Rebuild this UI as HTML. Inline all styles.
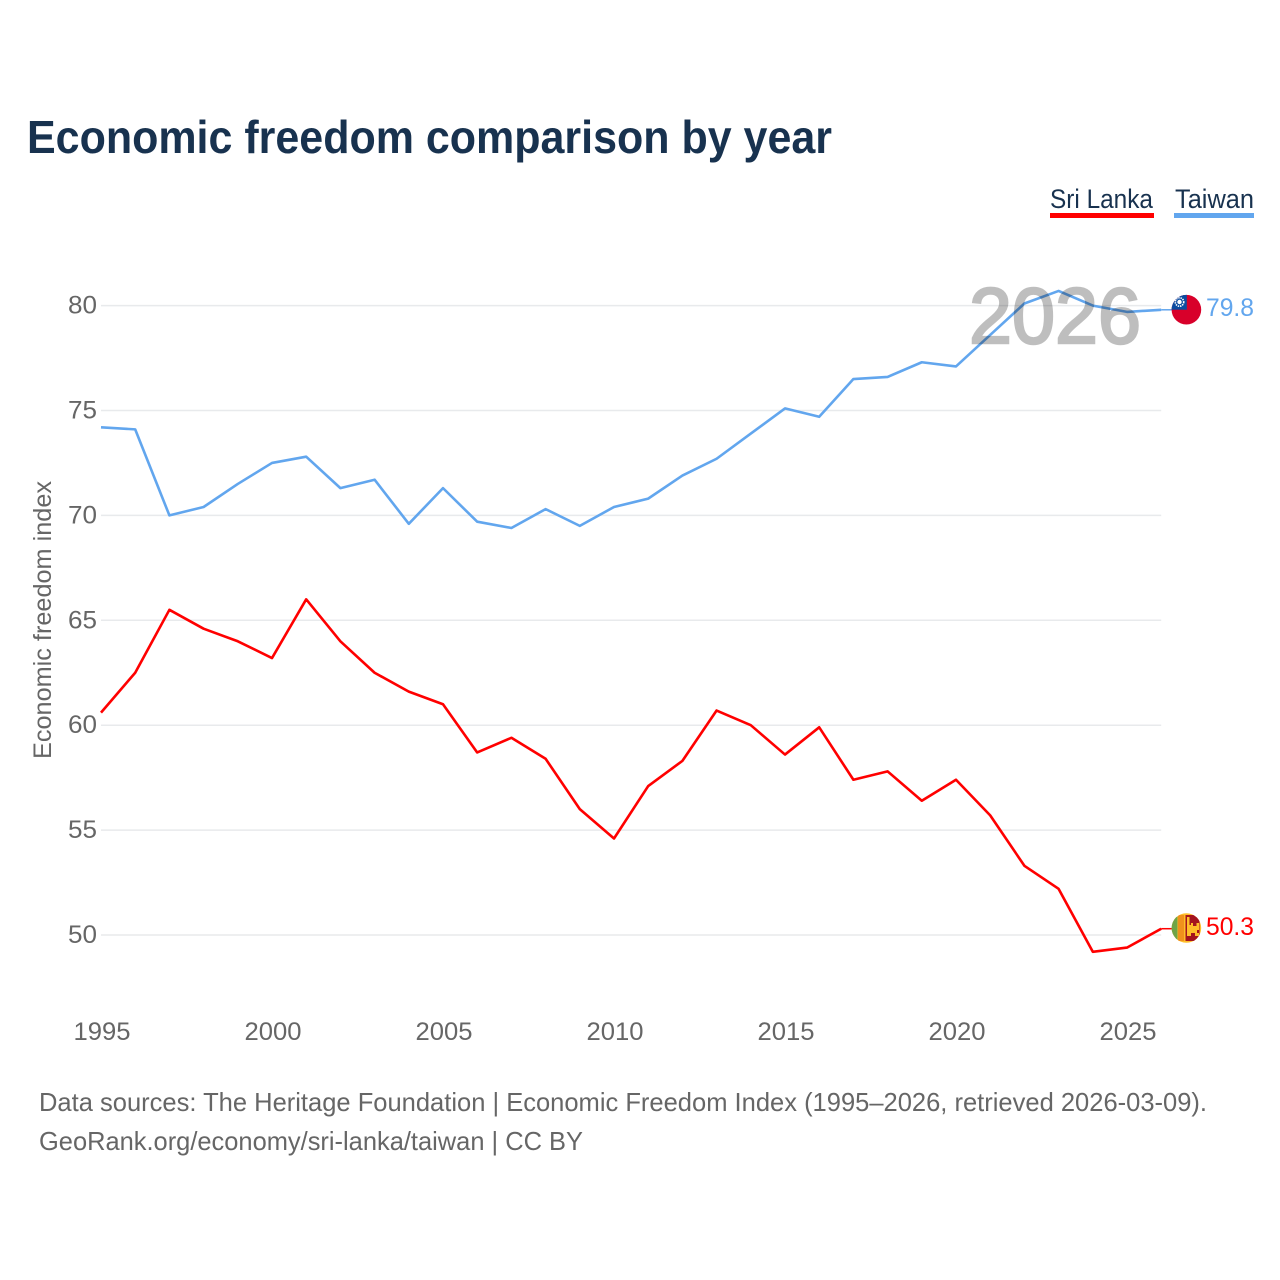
<!DOCTYPE html>
<html lang="en">
<head>
<meta charset="utf-8">
<title>Economic freedom comparison by year</title>
<style>
  html, body { margin: 0; padding: 0; background: #fff; }
  svg { display: block; font-family: "Liberation Sans", sans-serif; }
</style>
</head>
<body>
<svg id="chart" xmlns="http://www.w3.org/2000/svg" width="1280" height="1280" viewBox="0 0 1280 1280">
  <rect width="1280" height="1280" fill="#ffffff"/>
  <text x="27" y="153" font-size="46" font-weight="700" fill="#18324f" textLength="805" lengthAdjust="spacingAndGlyphs">Economic freedom comparison by year</text>

  <g>
    <text x="1050" y="208" font-size="27" fill="#18324f" textLength="103" lengthAdjust="spacingAndGlyphs">Sri Lanka</text>
    <rect x="1050" y="213" width="104" height="5" fill="#ff0000"/>
  </g>
  <g>
    <text x="1175" y="208" font-size="27" fill="#18324f" textLength="79" lengthAdjust="spacingAndGlyphs">Taiwan</text>
    <rect x="1174" y="213" width="80" height="5" fill="#62a6ee"/>
  </g>

  <g id="grid"></g>
  <g id="y-ticks"></g>
  <g id="x-ticks"></g>
  <text transform="translate(51,620) rotate(-90)" text-anchor="middle" font-size="25" fill="#666666" textLength="278" lengthAdjust="spacingAndGlyphs">Economic freedom index</text>

  <g id="series"></g>
  <text x="969" y="343" font-size="79" font-weight="400" fill="#000000" stroke="#000000" stroke-width="2.4" opacity="0.25" textLength="172" lengthAdjust="spacingAndGlyphs">2026</text>

  <g id="end-taiwan">
    <clipPath id="clip-tw"><circle cx="1186.4" cy="309.7" r="14.8"/></clipPath>
    <g clip-path="url(#clip-tw)">
      <rect x="1171" y="294" width="31" height="31" fill="#d8002a"/>
      <rect x="1171" y="294" width="15.8" height="15.7" fill="#0b4ca0"/>
      <circle cx="1179.5" cy="302" r="4.2" fill="none" stroke="#ffffff" stroke-width="1.6" stroke-dasharray="1.4 0.9"/>
      <circle cx="1179.5" cy="302" r="2.2" fill="#ffffff"/>
    </g>
  </g>
  <g id="end-sri-lanka">
    <clipPath id="clip-lk"><circle cx="1186.4" cy="928" r="14.8"/></clipPath>
    <g clip-path="url(#clip-lk)">
      <rect x="1171" y="913" width="31" height="31" fill="#ffbe29"/>
      <rect x="1171" y="915" width="6.5" height="26" fill="#6fa447"/>
      <rect x="1178" y="915" width="6" height="26" fill="#f0911d"/>
      <rect x="1185.5" y="915" width="14" height="26" fill="#a4141e"/>
      <path d="M1187 917h2.5v8h1.5v-2h2v3h3.5v-3h2.5v7h-2v3h2v3h-4v-3h-4v3h-4z" fill="#ffbe29"/>
    </g>
  </g>
  <text id="val-tw" x="1206" y="316" font-size="25" fill="#62a6ee" textLength="48" lengthAdjust="spacingAndGlyphs"></text>
  <text id="val-lk" x="1206" y="935" font-size="25" fill="#ff0000" textLength="48" lengthAdjust="spacingAndGlyphs"></text>

  <text x="39" y="1111" font-size="26" fill="#666666" textLength="1168" lengthAdjust="spacingAndGlyphs">Data sources: The Heritage Foundation | Economic Freedom Index (1995–2026, retrieved 2026-03-09).</text>
  <text x="39" y="1150" font-size="26" fill="#666666" textLength="544" lengthAdjust="spacingAndGlyphs">GeoRank.org/economy/sri-lanka/taiwan | CC BY</text>
</svg>
<script>
const years = [1995,1996,1997,1998,1999,2000,2001,2002,2003,2004,2005,2006,2007,2008,2009,2010,2011,2012,2013,2014,2015,2016,2017,2018,2019,2020,2021,2022,2023,2024,2025,2026];
const taiwanValues = [74.2,74.1,70.0,70.4,71.5,72.5,72.8,71.3,71.7,69.6,71.3,69.7,69.4,70.3,69.5,70.4,70.8,71.9,72.7,73.9,75.1,74.7,76.5,76.6,77.3,77.1,78.6,80.1,80.7,80.0,79.7,79.8];
const sriLankaValues = [60.6,62.5,65.5,64.6,64.0,63.2,66.0,64.0,62.5,61.6,61.0,58.7,59.4,58.4,56.0,54.6,57.1,58.3,60.7,60.0,58.6,59.9,57.4,57.8,56.4,57.4,55.7,53.3,52.2,49.2,49.4,50.3];
const yTickValues = [50,55,60,65,70,75,80];
const xTickValues = [1995,2000,2005,2010,2015,2020,2025];

const NS = 'http://www.w3.org/2000/svg';
function xScale(year) { return 101 + (year - 1995) * (1127 - 101) / 30; }
function yScale(v) { return 935 - (v - 50) * (935 - 305.6) / 30; }
function make(tag, attrs, parent) {
  const el = document.createElementNS(NS, tag);
  for (const k in attrs) el.setAttribute(k, attrs[k]);
  parent.appendChild(el);
  return el;
}

const grid = document.getElementById('grid');
const yTicks = document.getElementById('y-ticks');
yTickValues.forEach(function (t) {
  const gl = make('line', { x1: 101, x2: xScale(2026), y1: yScale(t), y2: yScale(t), stroke: '#e8eaec', 'stroke-width': 1.5 }, grid);
  
  
  const lb = make('text', { x: 97, y: yScale(t) + 8, 'text-anchor': 'end', 'font-size': 25, fill: '#666666', textLength: 29, lengthAdjust: 'spacingAndGlyphs' }, yTicks);
  lb.textContent = String(t);
  
  
});

const xTicks = document.getElementById('x-ticks');
xTickValues.forEach(function (t) {
  const lb = make('text', { x: xScale(t) + 1, y: 1040, 'text-anchor': 'middle', 'font-size': 25, fill: '#666666', textLength: 57, lengthAdjust: 'spacingAndGlyphs' }, xTicks);
  lb.textContent = String(t);
  
  
});

const seriesGroup = document.getElementById('series');
function drawSeries(values, color, name) {
  const pts = values.map(function (v, i) { return xScale(years[i]).toFixed(2) + ',' + yScale(v).toFixed(2); });
  const line = make('polyline', { points: pts.join(' '), fill: 'none', stroke: color, 'stroke-width': 2.6, 'stroke-linejoin': 'round' }, seriesGroup);
  
  
  const last = values[values.length - 1];
  const conn = make('line', { x1: xScale(years[years.length - 1]), x2: 1174, y1: yScale(last), y2: yScale(last), stroke: color, 'stroke-width': 1.5 }, seriesGroup);
  
  
}
drawSeries(taiwanValues, '#62a6ee', 'taiwan');
drawSeries(sriLankaValues, '#ff0000', 'sri-lanka');

document.getElementById('val-tw').textContent = taiwanValues[taiwanValues.length - 1].toFixed(1);
document.getElementById('val-lk').textContent = sriLankaValues[sriLankaValues.length - 1].toFixed(1);
</script>
</body>
</html>
